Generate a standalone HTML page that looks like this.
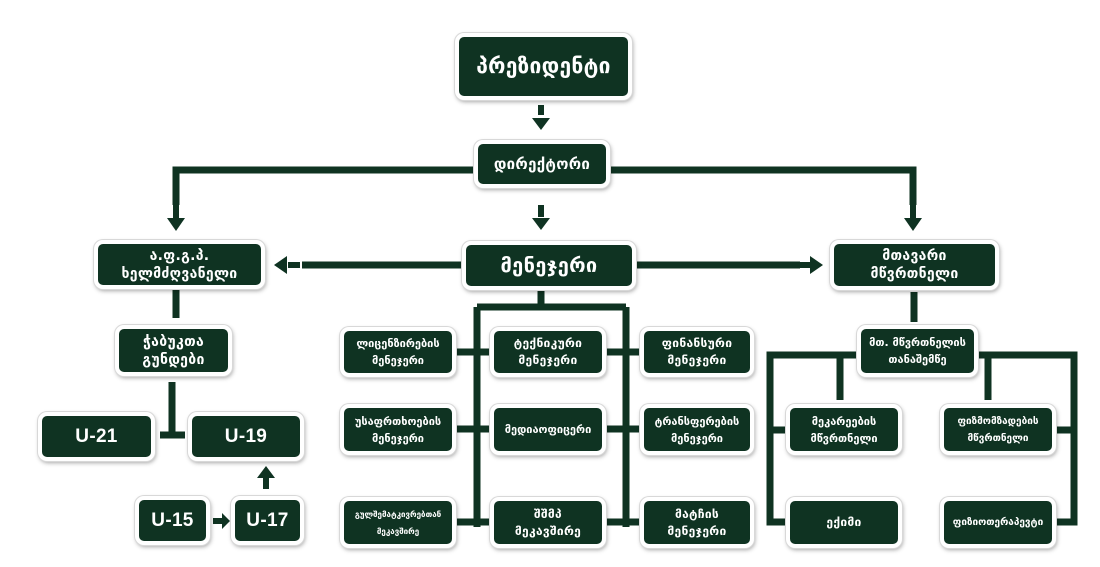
<!DOCTYPE html>
<html><head><meta charset="utf-8"><style>
body{margin:0;width:1100px;height:567px;background:#fff;position:relative;overflow:hidden;font-family:"DejaVu Sans","Liberation Sans",sans-serif}
.b{position:absolute;box-sizing:border-box;background:#0f3322;border:4px solid #fff;border-radius:9px;box-shadow:0 0 0 1px #d8d8d8,1px 2px 4px rgba(0,0,0,.35);color:#fff;font-weight:bold;display:flex;align-items:center;justify-content:center;text-align:center;font-size:12px;line-height:17px;letter-spacing:.3px}
.u{font-family:"Liberation Sans",sans-serif;font-size:19px}
svg{position:absolute;left:0;top:0}
</style></head><body>
<svg width="1100" height="567">
<g stroke="#0f3322" stroke-width="7" fill="none">
<path d="M474 170H176V205M610 170H913V205"/>
<path d="M541 290V307M477 307H626M477 307V527M626 307V527"/>
<path d="M456 352H490M456 429H490M456 522H490M606 352H640M606 429H640M606 522H640"/>
<path d="M462 265H302M636 265H800"/>
<path d="M176 290V318M172 382V435M160 435H185"/>
<path d="M914 292V322"/>
<path d="M857 355H770V522H786M770 430H786M840 355V400"/>
<path d="M978 355H1074V522H1056M1074 430H1056M988 355V400"/>
</g>
<g fill="#0f3322">
<rect x="538" y="105" width="6" height="10"/><polygon points="532,118 550,118 541,130"/>
<rect x="538" y="205" width="6" height="12"/><polygon points="532,218 550,218 541,230"/>
<rect x="173" y="205" width="6" height="13"/><polygon points="167,218 185,218 176,231"/>
<rect x="910" y="205" width="6" height="13"/><polygon points="904,218 922,218 913,231"/>
<rect x="288" y="262" width="12" height="6"/><polygon points="287,256 287,274 274,265"/>
<rect x="800" y="262" width="10" height="6"/><polygon points="810,256 810,274 823,265"/>
<rect x="263" y="478" width="6" height="11"/><polygon points="257,478 275,478 266,466"/>
<rect x="213" y="518" width="9" height="6"/><polygon points="222,513 222,529 230,521"/>
</g>
</svg>
<div class="b" style="left:455px;top:33px;width:177px;height:67px;font-size:21px">პრეზიდენტი</div>
<div class="b" style="left:474px;top:140px;width:136px;height:48px;font-size:15px">დირექტორი</div>
<div class="b" style="left:462px;top:241px;width:174px;height:49px;font-size:20px">მენეჯერი</div>
<div class="b" style="left:94px;top:240px;width:171px;height:49px;font-size:14px;line-height:18px">ა.ფ.გ.პ.<br>ხელმძღვანელი</div>
<div class="b" style="left:830px;top:240px;width:169px;height:50px;font-size:14px;line-height:18px">მთავარი<br>მწვრთნელი</div>
<div class="b" style="left:115px;top:325px;width:117px;height:51px;font-size:14px;line-height:18px">ჭაბუკთა<br>გუნდები</div>
<div class="b u" style="left:38px;top:412px;width:117px;height:49px">U-21</div>
<div class="b u" style="left:188px;top:412px;width:116px;height:49px">U-19</div>
<div class="b u" style="left:135px;top:496px;width:75px;height:49px">U-15</div>
<div class="b u" style="left:231px;top:496px;width:73px;height:49px">U-17</div>
<div class="b" style="left:340px;top:327px;width:116px;height:50px;font-size:11px;letter-spacing:0">ლიცენზირების<br>მენეჯერი</div>
<div class="b" style="left:490px;top:327px;width:116px;height:50px">ტექნიკური<br>მენეჯერი</div>
<div class="b" style="left:640px;top:327px;width:114px;height:50px">ფინანსური<br>მენეჯერი</div>
<div class="b" style="left:340px;top:404px;width:116px;height:51px;font-size:11px;letter-spacing:0">უსაფრთხოების<br>მენეჯერი</div>
<div class="b" style="left:490px;top:404px;width:116px;height:51px;font-size:11px;letter-spacing:0">მედიაოფიცერი</div>
<div class="b" style="left:640px;top:404px;width:114px;height:51px;font-size:11px;letter-spacing:0">ტრანსფერების<br>მენეჯერი</div>
<div class="b" style="left:340px;top:497px;width:116px;height:51px;font-size:8px;letter-spacing:0">გულშემატკივრებთან<br>მეკავშირე</div>
<div class="b" style="left:490px;top:497px;width:116px;height:51px">შშმპ<br>მეკავშირე</div>
<div class="b" style="left:640px;top:497px;width:114px;height:51px">მატჩის<br>მენეჯერი</div>
<div class="b" style="left:857px;top:325px;width:121px;height:52px;font-size:11px;letter-spacing:0">მთ. მწვრთნელის<br>თანაშემწე</div>
<div class="b" style="left:786px;top:404px;width:116px;height:51px;font-size:11px;letter-spacing:0">მეკარეების<br>მწვრთნელი</div>
<div class="b" style="left:940px;top:404px;width:116px;height:51px;font-size:10px;letter-spacing:0">ფიზმომზადების<br>მწვრთნელი</div>
<div class="b" style="left:786px;top:497px;width:116px;height:51px">ექიმი</div>
<div class="b" style="left:940px;top:497px;width:116px;height:51px;font-size:10px;letter-spacing:0">ფიზიოთერაპევტი</div>
</body></html>
